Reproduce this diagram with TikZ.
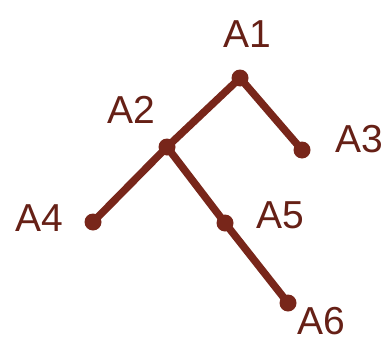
\documentclass[tikz,border=0pt]{standalone}
\usepackage{fontspec}
\setmainfont{Liberation Sans}
\definecolor{brn}{RGB}{120,38,26}
\begin{document}
\begin{tikzpicture}[x=1pt,y=-1pt,
  dot/.style={circle,fill=brn,inner sep=0pt,minimum size=17pt},
  lbl/.style={text=brn!85!black,font=\fontsize{39}{39}\selectfont,inner sep=0pt},
  edge/.style={draw=brn,line width=7.5pt}]
\useasboundingbox (0,0) rectangle (390,345);
\node[dot] (a1) at (240,78) {};
\node[dot] (a2) at (167,147) {};
\node[dot] (a3) at (302,150) {};
\node[dot] (a4) at (93,222) {};
\node[dot] (a5) at (225,223) {};
\node[dot] (a6) at (288,303) {};
\draw[edge] (a1.center) -- (a2.center);
\draw[edge] (a1.center) -- (a3.center);
\draw[edge] (a2.center) -- (a4.center);
\draw[edge] (a2.center) -- (a5.center);
\draw[edge] (a5.center) -- (a6.center);
\node[lbl] (l1) at (247,34) {A1};
\node[lbl] (l2) at (131,110) {A2};
\node[lbl] (l3) at (359,139) {A3};
\node[lbl] (l4) at (39,218) {A4};
\node[lbl] (l5) at (280,215) {A5};
\node[lbl] (l6) at (321,321) {A6};
\end{tikzpicture}
\end{document}
